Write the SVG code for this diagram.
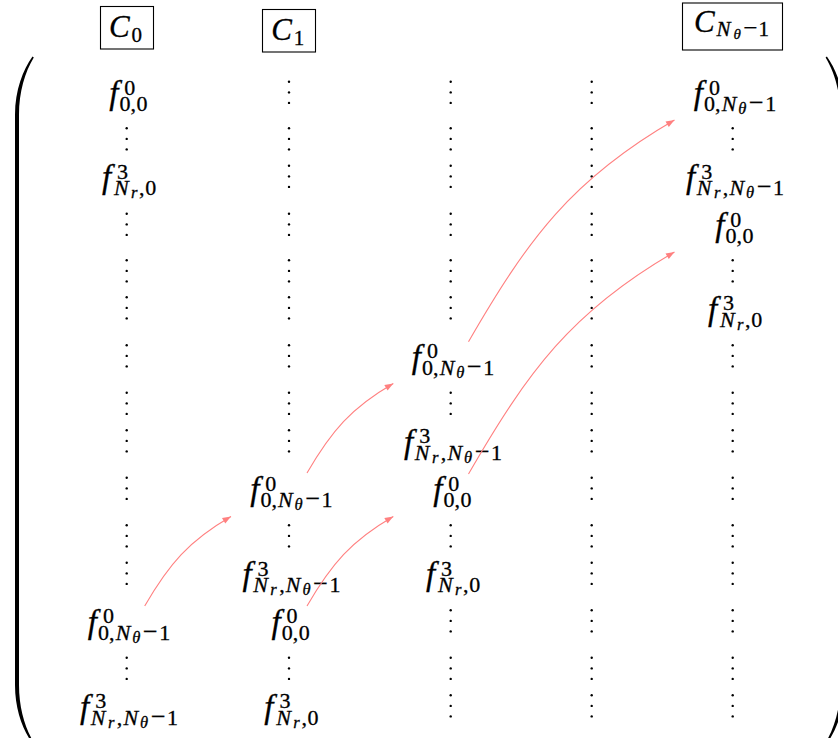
<svg xmlns="http://www.w3.org/2000/svg" width="838" height="738" viewBox="0 0 838 738">
  <style>
    text { font-family: "Liberation Serif", "Times New Roman", serif; fill: #000; stroke: #000; stroke-width: 0.3; font-size: 22px; }
    .f { font-style: italic; font-size: 33px; }
    .i { font-style: italic; }
    .ss { font-size: 16.5px; }
    .mn { font-size: 26px; }
    .hc { font-style: italic; font-size: 31px; }
    .hs { font-size: 21px; }
    .hss { font-size: 15px; }
    .hmn { font-size: 25px; }
    .box { fill: none; stroke: #000; stroke-width: 1.1; }
    .arrow { fill: none; stroke: #ff8080; stroke-width: 1.1; marker-end: url(#tip); }
    .paren { fill: #000; }
  </style>
  <defs>
    <marker id="tip" markerUnits="userSpaceOnUse" viewBox="-9 -4 10 8" refX="0" refY="0" markerWidth="10" markerHeight="8" orient="auto">
      <path d="M-8.5,-3.3 L0,0 L-8.5,3.3 Z" fill="#ff8080"/>
    </marker>
    <!-- vertical ellipsis, origin on the text baseline -->
    <g id="vd">
      <circle cx="0" cy="-1.1" r="1.2"/>
      <circle cx="0" cy="-11.6" r="1.2"/>
      <circle cx="0" cy="-22.2" r="1.2"/>
    </g>
  </defs>

  <!-- matrix delimiters -->
  <path class="paren" d="M32.5,56.5 C23,70 15,90 15,115 L15,685 C15,710 23,730 32.5,743.5 L33.8,742.5 C25,728 19,708 19,685 L19,115 C19,92 25,72 33.8,57.5 Z"/>
  <path class="paren" d="M826.9,56.5 C836.4,70 844.4,90 844.4,115 L844.4,685 C844.4,710 836.4,730 826.9,743.5 L825.6,742.5 C834.4,728 840.4,708 840.4,685 L840.4,115 C840.4,92 834.4,72 825.6,57.5 Z"/>

  <!-- column headers -->
  <g id="hdr-c0">
    <rect class="box" x="100.5" y="6.5" width="53" height="42.5"/>
    <text><tspan class="hc" x="109" y="37">C</tspan><tspan class="hs" x="131.5" y="41.5">0</tspan></text>
  </g>
  <g id="hdr-c1">
    <rect class="box" x="262.5" y="9.5" width="53" height="42.5"/>
    <text><tspan class="hc" x="271.3" y="40.3">C</tspan><tspan class="hs" x="293.8" y="44.8">1</tspan></text>
  </g>
  <g id="hdr-cn">
    <rect class="box" x="682.5" y="3" width="100" height="47"/>
    <text><tspan class="hc" x="694" y="31.5">C</tspan><tspan class="hs i" x="716.5" y="36">N</tspan><tspan class="hss i" x="733.4" y="39">θ</tspan><tspan class="hmn" x="743.2" y="36">−</tspan><tspan class="hs" x="758.6" y="36">1</tspan></text>
  </g>

  <!-- vertical dots filling the matrix -->
  <g id="vdots" fill="#000">
    <use href="#vd" x="126.7" y="150.5"/>
    <use href="#vd" x="126.7" y="236"/>
    <use href="#vd" x="126.7" y="282.5"/>
    <use href="#vd" x="126.7" y="319.5"/>
    <use href="#vd" x="126.7" y="367.5"/>
    <use href="#vd" x="126.7" y="415"/>
    <use href="#vd" x="126.7" y="452.5"/>
    <use href="#vd" x="126.7" y="500"/>
    <use href="#vd" x="126.7" y="547.5"/>
    <use href="#vd" x="126.7" y="585"/>
    <use href="#vd" x="126.7" y="680"/>

    <use href="#vd" x="289" y="104"/>
    <use href="#vd" x="289" y="150.5"/>
    <use href="#vd" x="289" y="188"/>
    <use href="#vd" x="289" y="236"/>
    <use href="#vd" x="289" y="282.5"/>
    <use href="#vd" x="289" y="319.5"/>
    <use href="#vd" x="289" y="367.5"/>
    <use href="#vd" x="289" y="415"/>
    <use href="#vd" x="289" y="452.5"/>
    <use href="#vd" x="289" y="547.5"/>
    <use href="#vd" x="289" y="680"/>

    <use href="#vd" x="450.7" y="104"/>
    <use href="#vd" x="450.7" y="150.5"/>
    <use href="#vd" x="450.7" y="188"/>
    <use href="#vd" x="450.7" y="236"/>
    <use href="#vd" x="450.7" y="282.5"/>
    <use href="#vd" x="450.7" y="319.5"/>
    <use href="#vd" x="450.7" y="415"/>
    <use href="#vd" x="450.7" y="547.5"/>
    <use href="#vd" x="450.7" y="632.5"/>
    <use href="#vd" x="450.7" y="680"/>
    <use href="#vd" x="450.7" y="717.5"/>

    <use href="#vd" x="591.7" y="104"/>
    <use href="#vd" x="591.7" y="150.5"/>
    <use href="#vd" x="591.7" y="188"/>
    <use href="#vd" x="591.7" y="236"/>
    <use href="#vd" x="591.7" y="282.5"/>
    <use href="#vd" x="591.7" y="319.5"/>
    <use href="#vd" x="591.7" y="367.5"/>
    <use href="#vd" x="591.7" y="415"/>
    <use href="#vd" x="591.7" y="452.5"/>
    <use href="#vd" x="591.7" y="500"/>
    <use href="#vd" x="591.7" y="547.5"/>
    <use href="#vd" x="591.7" y="585"/>
    <use href="#vd" x="591.7" y="632.5"/>
    <use href="#vd" x="591.7" y="680"/>
    <use href="#vd" x="591.7" y="717.5"/>

    <use href="#vd" x="732.7" y="150.5"/>
    <use href="#vd" x="732.7" y="282.5"/>
    <use href="#vd" x="732.7" y="367.5"/>
    <use href="#vd" x="732.7" y="415"/>
    <use href="#vd" x="732.7" y="452.5"/>
    <use href="#vd" x="732.7" y="500"/>
    <use href="#vd" x="732.7" y="547.5"/>
    <use href="#vd" x="732.7" y="585"/>
    <use href="#vd" x="732.7" y="632.5"/>
    <use href="#vd" x="732.7" y="680"/>
    <use href="#vd" x="732.7" y="717.5"/>
  </g>

  <!-- column C0 -->
  <g id="c0-f00" transform="translate(126.7,104)">
    <text><tspan class="f" x="-17.55" y="0">f</tspan><tspan x="-2.5" y="-9.5">0</tspan><tspan x="-7.3 3.7 9.8" y="7">0,0</tspan></text>
  </g>
  <g id="c0-f3nr0" transform="translate(126.7,188)">
    <text><tspan class="f" x="-24.65" y="0">f</tspan><tspan x="-9.6" y="-9.5">3</tspan><tspan class="i" x="-12.8" y="7">N</tspan><tspan class="ss i" x="4.3" y="10">r</tspan><tspan x="12.4 18.6" y="7">,0</tspan></text>
  </g>
  <g id="c0-f0nt" transform="translate(126.7,632.5)">
    <text><tspan class="f" x="-38.85" y="0">f</tspan><tspan x="-23.8" y="-9.5">0</tspan><tspan x="-28.6 -17.6" y="7">0,</tspan><tspan class="i" x="-11" y="7">N</tspan><tspan class="ss i" x="5.6" y="10">θ</tspan><tspan class="mn" x="16.4" y="7">−</tspan><tspan x="32.6" y="7">1</tspan></text>
  </g>
  <g id="c0-f3nt" transform="translate(126.7,717.5)">
    <text><tspan class="f" x="-46.6" y="0">f</tspan><tspan x="-31.55" y="-9.5">3</tspan><tspan class="i" x="-35.85" y="7">N</tspan><tspan class="ss i" x="-18.65" y="10">r</tspan><tspan x="-9.85" y="7">,</tspan><tspan class="i" x="-3.25" y="7">N</tspan><tspan class="ss i" x="13.4" y="10">θ</tspan><tspan class="mn" x="24.2" y="7">−</tspan><tspan x="40.4" y="7">1</tspan></text>
  </g>

  <!-- column C1 -->
  <g id="c1-f0nt" transform="translate(289,500)">
    <text><tspan class="f" x="-38.85" y="0">f</tspan><tspan x="-23.8" y="-9.5">0</tspan><tspan x="-28.6 -17.6" y="7">0,</tspan><tspan class="i" x="-11" y="7">N</tspan><tspan class="ss i" x="5.6" y="10">θ</tspan><tspan class="mn" x="16.4" y="7">−</tspan><tspan x="32.6" y="7">1</tspan></text>
  </g>
  <g id="c1-f3nt" transform="translate(289,585)">
    <text><tspan class="f" x="-46.6" y="0">f</tspan><tspan x="-31.55" y="-9.5">3</tspan><tspan class="i" x="-35.85" y="7">N</tspan><tspan class="ss i" x="-18.65" y="10">r</tspan><tspan x="-9.85" y="7">,</tspan><tspan class="i" x="-3.25" y="7">N</tspan><tspan class="ss i" x="13.4" y="10">θ</tspan><tspan class="mn" x="24.2" y="7">−</tspan><tspan x="40.4" y="7">1</tspan></text>
  </g>
  <g id="c1-f00" transform="translate(289,632.5)">
    <text><tspan class="f" x="-17.55" y="0">f</tspan><tspan x="-2.5" y="-9.5">0</tspan><tspan x="-7.3 3.7 9.8" y="7">0,0</tspan></text>
  </g>
  <g id="c1-f3nr0" transform="translate(289,717.5)">
    <text><tspan class="f" x="-24.65" y="0">f</tspan><tspan x="-9.6" y="-9.5">3</tspan><tspan class="i" x="-12.8" y="7">N</tspan><tspan class="ss i" x="4.3" y="10">r</tspan><tspan x="12.4 18.6" y="7">,0</tspan></text>
  </g>

  <!-- column C2 -->
  <g id="c2-f0nt" transform="translate(450.7,367.5)">
    <text><tspan class="f" x="-38.85" y="0">f</tspan><tspan x="-23.8" y="-9.5">0</tspan><tspan x="-28.6 -17.6" y="7">0,</tspan><tspan class="i" x="-11" y="7">N</tspan><tspan class="ss i" x="5.6" y="10">θ</tspan><tspan class="mn" x="16.4" y="7">−</tspan><tspan x="32.6" y="7">1</tspan></text>
  </g>
  <g id="c2-f3nt" transform="translate(450.7,452.5)">
    <text><tspan class="f" x="-46.6" y="0">f</tspan><tspan x="-31.55" y="-9.5">3</tspan><tspan class="i" x="-35.85" y="7">N</tspan><tspan class="ss i" x="-18.65" y="10">r</tspan><tspan x="-9.85" y="7">,</tspan><tspan class="i" x="-3.25" y="7">N</tspan><tspan class="ss i" x="13.4" y="10">θ</tspan><tspan class="mn" x="24.2" y="7">−</tspan><tspan x="40.4" y="7">1</tspan></text>
  </g>
  <g id="c2-f00" transform="translate(450.7,500)">
    <text><tspan class="f" x="-17.55" y="0">f</tspan><tspan x="-2.5" y="-9.5">0</tspan><tspan x="-7.3 3.7 9.8" y="7">0,0</tspan></text>
  </g>
  <g id="c2-f3nr0" transform="translate(450.7,585)">
    <text><tspan class="f" x="-24.65" y="0">f</tspan><tspan x="-9.6" y="-9.5">3</tspan><tspan class="i" x="-12.8" y="7">N</tspan><tspan class="ss i" x="4.3" y="10">r</tspan><tspan x="12.4 18.6" y="7">,0</tspan></text>
  </g>

  <!-- last column -->
  <g id="cn-f0nt" transform="translate(732.7,104)">
    <text><tspan class="f" x="-38.85" y="0">f</tspan><tspan x="-23.8" y="-9.5">0</tspan><tspan x="-28.6 -17.6" y="7">0,</tspan><tspan class="i" x="-11" y="7">N</tspan><tspan class="ss i" x="5.6" y="10">θ</tspan><tspan class="mn" x="16.4" y="7">−</tspan><tspan x="32.6" y="7">1</tspan></text>
  </g>
  <g id="cn-f3nt" transform="translate(732.7,188)">
    <text><tspan class="f" x="-46.6" y="0">f</tspan><tspan x="-31.55" y="-9.5">3</tspan><tspan class="i" x="-35.85" y="7">N</tspan><tspan class="ss i" x="-18.65" y="10">r</tspan><tspan x="-9.85" y="7">,</tspan><tspan class="i" x="-3.25" y="7">N</tspan><tspan class="ss i" x="13.4" y="10">θ</tspan><tspan class="mn" x="24.2" y="7">−</tspan><tspan x="40.4" y="7">1</tspan></text>
  </g>
  <g id="cn-f00" transform="translate(732.7,236)">
    <text><tspan class="f" x="-17.55" y="0">f</tspan><tspan x="-2.5" y="-9.5">0</tspan><tspan x="-7.3 3.7 9.8" y="7">0,0</tspan></text>
  </g>
  <g id="cn-f3nr0" transform="translate(732.7,319.5)">
    <text><tspan class="f" x="-24.65" y="0">f</tspan><tspan x="-9.6" y="-9.5">3</tspan><tspan class="i" x="-12.8" y="7">N</tspan><tspan class="ss i" x="4.3" y="10">r</tspan><tspan x="12.4 18.6" y="7">,0</tspan></text>
  </g>

  <!-- shift arrows between blocks -->
  <g id="connectors">
    <path class="arrow" d="M144.7,606 C168.95,564 189,540.75 231,516.5"/>
    <path class="arrow" d="M307,606 C331.25,564 351.3,540.75 393.3,516.5"/>
    <path class="arrow" d="M307,473 C331.25,431 351.3,407.75 393.3,383.5"/>
    <path class="arrow" d="M468.5,341.7 C527.8,239 571.8,179.3 674.5,120"/>
    <path class="arrow" d="M468.5,474 C527.8,371.3 571.8,311.3 674.5,252"/>
  </g>
</svg>
